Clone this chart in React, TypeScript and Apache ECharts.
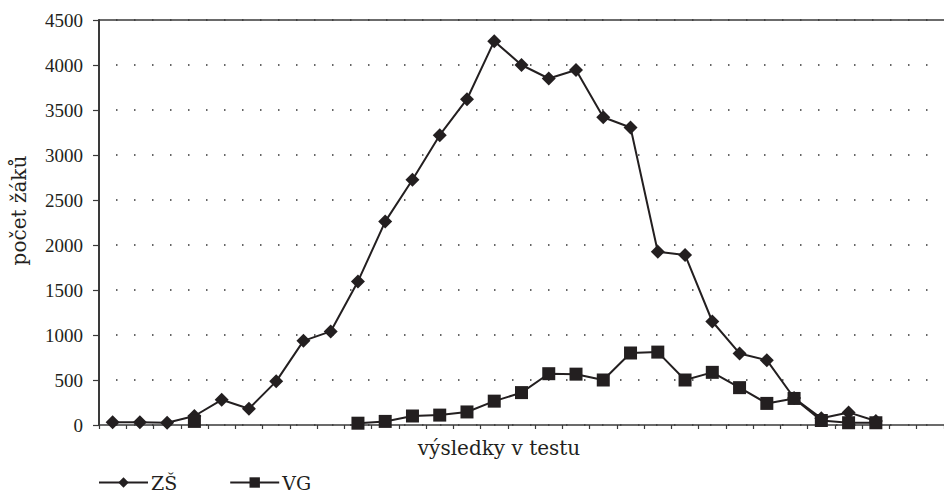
import React, { useEffect, useRef } from "react";
import * as echarts from "echarts";

const categories: string[] = Array.from({ length: 31 }, (_, i) => String(i + 1));
const zsValues: (number | null)[] = [
  30, 30, 25, 100, 280, 180, 485, 935, 1040, 1595, 2260, 2725, 3220, 3620, 4265,
  4000, 3850, 3945, 3420, 3305, 1925, 1890, 1150, 795, 720, 300, 75, 140, 45, null, null,
];
const vgValues: (number | null)[] = [
  null, null, null, 40, null, null, null, null, null, 20, 40, 100, 110, 145, 265,
  360, 570, 565, 500, 800, 810, 500, 585, 415, 240, 295, 50, 25, 25, null, null,
];
const seriesNames = ["ZŠ", "VG"];
const xAxisName = "výsledky v testu";
const yAxisName = "počet žáků";

const INK = "#231f20";
const AXIS = "#3a3a3a";
const NAME_FONT = "DejaVu Serif";
const NUM_FONT = "Liberation Serif";

export default function App() {
  const ref = useRef<HTMLDivElement>(null);
  useEffect(() => {
    if (!ref.current) return;
    const chart = echarts.init(ref.current, undefined, { renderer: "svg" });
    chart.setOption({
      animation: false,
      backgroundColor: "#ffffff",
      grid: { left: 99, top: 20, width: 847, height: 405, containLabel: false },
      legend: {
        data: seriesNames,
        left: 93,
        top: 468,
        padding: [5, 5, 0, 5],
        itemWidth: 49,
        itemHeight: 13,
        itemGap: 52,
        textStyle: {
          fontFamily: NAME_FONT,
          fontSize: 19,
          lineHeight: 18,
          color: INK,
          padding: [0, 0, 0, -2],
        },
      },
      xAxis: [
        {
          type: "category",
          data: categories,
          boundaryGap: true,
          position: "bottom",
          axisLine: { show: true, lineStyle: { color: AXIS, width: 1.5 } },
          axisTick: { show: true, interval: 0, length: 4, lineStyle: { color: AXIS, width: 1.2 } },
          axisLabel: { show: false },
          splitLine: { show: false },
          name: xAxisName,
          nameLocation: "middle",
          nameGap: 13,
          nameTextStyle: {
            fontFamily: NAME_FONT,
            fontSize: 20,
            color: INK,
            verticalAlign: "top",
            padding: [0, 45, 0, 0],
          },
        },
        {
          type: "category",
          data: categories,
          position: "top",
          axisLine: { show: true, lineStyle: { color: AXIS, width: 1.5 } },
          axisTick: { show: false },
          axisLabel: { show: false },
          splitLine: { show: false },
        },
      ],
      yAxis: {
        type: "value",
        min: 0,
        max: 4500,
        interval: 500,
        axisLine: { show: true, lineStyle: { color: AXIS, width: 2 } },
        axisTick: { show: true, length: 6, lineStyle: { color: AXIS, width: 1.2 } },
        axisLabel: {
          fontFamily: NUM_FONT,
          fontSize: 19,
          color: INK,
          margin: 16,
          formatter: (v: number) => String(v),
        },
        splitLine: {
          show: true,
          lineStyle: { color: "#333333", width: 1.5, type: [1.5, 16.5], dashOffset: 1.25 },
        },
        name: yAxisName,
        nameLocation: "middle",
        nameRotate: 90,
        nameGap: 70,
        nameTextStyle: {
          fontFamily: NAME_FONT,
          fontSize: 20,
          color: INK,
          padding: [0, 0, 0, 24],
        },
      },
      series: [
        {
          name: seriesNames[0],
          type: "line",
          data: zsValues,
          xAxisIndex: 0,
          symbol: "diamond",
          symbolSize: 14,
          connectNulls: false,
          lineStyle: { color: INK, width: 2 },
          itemStyle: { color: INK },
          z: 3,
        },
        {
          name: seriesNames[1],
          type: "line",
          data: vgValues,
          xAxisIndex: 0,
          symbol: "rect",
          symbolSize: 13,
          connectNulls: false,
          lineStyle: { color: INK, width: 2 },
          itemStyle: { color: INK },
          z: 4,
        },
      ],
    });
    return () => chart.dispose();
  }, []);
  return (
    <div
      ref={ref}
      style={{ position: "fixed", left: 0, top: 0, width: 944, height: 493, background: "#fff" }}
    />
  );
}
